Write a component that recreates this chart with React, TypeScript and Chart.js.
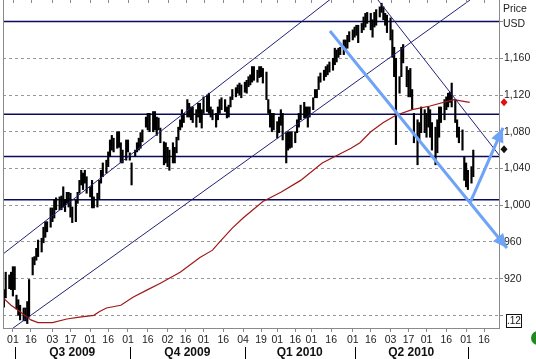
import React, { useEffect, useRef } from 'react';
import { Chart, registerables } from 'chart.js';
Chart.register(...registerables);

// ---------- DATA ----------
// x values are trading-day indices counted from 1 Jul 2009 (= 0)
const barDays = [-5,-4,-2,-1,0,1,2,3,4,6,7,8,9,11,12,13,14,16,17,18,19,21,22,23,24,26,27,28,29,30,31,32,33,35,36,37,38,39,40,41,43,44,45,47,48,49,50,52,53,54,55,56,58,59,60,61,63,64,65,66,68,69,70,71,72,74,75,76,78,79,80,81,82,84,85,86,87,89,90,91,92,93,94,95,97,98,99,100,102,103,104,105,106,108,109,110,111,113,114,115,116,118,119,120,121,122,124,125,126,127,129,130,131,132,133,134,136,137,138,139,141,142,143,144,145,147,148,149,150,152,153,154,155,157,158,159,160,162,163,164,165,167,168,169,170,171,173,174,175,176,178,179,180,181,182,184,185,186,187,189,190,191,192,194,195,196,197,199,200,201,202,204,205,206,207,208,210,211,212,213,215,216,217,219,220,221,222,223,225,226,227,229,230,231,232,233,235,236,237,238,240,241,242,243,244,246,247,248,250,251,252,253,255,256];
const barHighs = [908,927,924,927,933,933,902,897,891,888,888,895,919,943,944,953,962,964,976,982,982,997,997,1006,1008,1009,1010,1020,1006,1014,1014,1013,998,1006,1014,1027,1038,1035,1038,1031,1020,1027,1009,1013,1027,1038,1046,1049,1058,1071,1076,1073,1080,1080,1068,1060,1071,1071,1057,1046,1060,1068,1073,1079,1082,1096,1100,1100,1102,1102,1096,1095,1084,1069,1068,1063,1060,1068,1063,1074,1085,1093,1104,1100,1115,1111,1107,1107,1104,1111,1111,1104,1118,1120,1122,1107,1104,1100,1107,1115,1117,1115,1107,1109,1118,1126,1128,1131,1133,1131,1134,1136,1140,1142,1151,1151,1147,1151,1151,1149,1145,1115,1104,1100,1100,1091,1096,1104,1100,1079,1080,1080,1080,1080,1093,1100,1109,1112,1107,1107,1107,1117,1126,1126,1140,1144,1147,1151,1153,1156,1160,1171,1169,1171,1172,1180,1180,1185,1189,1191,1194,1196,1196,1198,1205,1209,1210,1209,1202,1210,1213,1216,1220,1216,1209,1207,1204,1191,1172,1160,1140,1172,1175,1151,1147,1149,1126,1100,1093,1090,1107,1104,1100,1107,1104,1090,1085,1093,1107,1107,1115,1118,1122,1123,1133,1115,1093,1085,1082,1053,1046,1038,1042,1060];
const barLows = [889,899,909,908,901,908,887,880,875,874,874,871,878,924,935,940,944,949,959,965,971,976,982,986,995,995,995,998,993,1002,998,987,981,982,1002,1013,1022,1017,1024,1013,1009,997,997,998,1006,1024,1031,1035,1042,1053,1060,1058,1062,1063,1046,1046,1049,1058,1049,1022,1053,1058,1060,1062,1069,1085,1082,1080,1080,1082,1076,1082,1068,1044,1046,1042,1038,1046,1046,1057,1071,1082,1085,1090,1096,1096,1093,1090,1085,1096,1090,1084,1100,1102,1100,1096,1093,1085,1093,1100,1104,1102,1095,1096,1107,1115,1118,1122,1120,1117,1123,1122,1129,1131,1134,1136,1134,1139,1140,1133,1115,1100,1085,1080,1082,1073,1079,1087,1071,1046,1060,1062,1063,1068,1079,1085,1093,1095,1095,1085,1096,1104,1117,1117,1126,1134,1136,1140,1142,1145,1147,1153,1156,1161,1164,1164,1169,1171,1178,1180,1183,1185,1177,1188,1191,1194,1198,1191,1183,1194,1196,1205,1210,1202,1196,1188,1180,1161,1140,1066,1122,1140,1155,1129,1118,1118,1104,1068,1044,1071,1079,1079,1074,1085,1074,1060,1044,1057,1074,1090,1093,1104,1107,1112,1107,1090,1074,1068,1060,1027,1020,1017,1024,1031];

const maDays = [-6,-1,4,10,14,22,30,37,45,48,52,60,67,75,82,93,104,111,115,122,128,139,149,160,172,188,193,199,206,213,222,232,245,254];
const maValues = [900,891,884,875,872,872,876,878,880,884,888,891,900,908,915,927,943,951,960,975,986,1004,1014,1027,1046,1062,1068,1080,1090,1098,1104,1108,1115,1112];

const levelPrices = [1200, 1099, 1053, 1006];

const channelUpperDays = [-6, 177];
const channelUpperPrices = [946, 1225];
const channelLowerDays = [0, 254.2];
const channelLowerPrices = [866, 1223.5];
const declineDays = [203, 270.3];
const declinePrices = [1223.5, 1054.7];

const arrowDownDays = [176.3, 274.7];
const arrowDownPrices = [1189.7, 953.4];
const arrowUpDays = [254.2, 272.5];
const arrowUpPrices = [1002.4, 1084.1];

const lastClose = 1061;

const xTickDays = [0,10,22,32,43,53,64,75,86,96,106,117,128,138,147,157,166,177,189,199,210,220,230,241,252,262];
const xTickLabels = ['01','16','03','17','01','16','01','16','02','16','01','16','04','19','01','16','01','16','01','16','03','17','01','16','01','16'];
const quarterStarts = [1, 65, 129, 190, 253];
const quarterLabels = ['Q3 2009', 'Q4 2009', 'Q1 2010', 'Q2 2010'];
const yTicks = [880, 920, 960, 1000, 1040, 1080, 1120, 1160, 1200];
const yHiddenLabels = [880, 1200];

const X_MIN = -5.5;
const X_MAX = 270.3;
const Y_MIN = 866.2;
const Y_MAX = 1223.5;

// ---------- helpers ----------
const pts = (xs: number[], ys: number[]) => xs.map((x, i) => ({ x, y: ys[i] }));
const FONT = '"Liberation Sans", Arial, sans-serif';
const BLUE = '#6ea3f5';

const overlay = {
  id: 'overlay',
  afterDraw(chart: any) {
    const { ctx, chartArea, scales } = chart;
    const xs = scales.x;
    const ys = scales.y;
    ctx.save();
    // left border
    ctx.strokeStyle = '#8a8a8a';
    ctx.lineWidth = 1;
    ctx.beginPath();
    ctx.moveTo(chartArea.left + 0.5, chartArea.top);
    ctx.lineTo(chartArea.left + 0.5, chartArea.bottom);
    ctx.stroke();
    // top tick marks
    xTickDays.forEach((d) => {
      const px = Math.round(xs.getPixelForValue(d)) + 0.5;
      ctx.beginPath();
      ctx.moveTo(px, chartArea.top);
      ctx.lineTo(px, chartArea.top + 3);
      ctx.stroke();
    });
    // quarter separators & labels
    ctx.strokeStyle = '#000';
    quarterStarts.forEach((d) => {
      const px = Math.round(xs.getPixelForValue(d)) + 0.5;
      ctx.beginPath();
      ctx.moveTo(px, chartArea.bottom + 19);
      ctx.lineTo(px, chartArea.bottom + 31);
      ctx.stroke();
    });
    ctx.fillStyle = '#111';
    ctx.font = 'bold 12px ' + FONT;
    ctx.textAlign = 'center';
    ctx.textBaseline = 'middle';
    quarterLabels.forEach((lab, i) => {
      const cx = (xs.getPixelForValue(quarterStarts[i]) + xs.getPixelForValue(quarterStarts[i + 1])) / 2;
      ctx.fillText(lab, cx, chartArea.bottom + 25);
    });
    // Price / USD
    ctx.font = '10.5px ' + FONT;
    ctx.textAlign = 'left';
    ctx.fillStyle = '#222';
    ctx.fillText('Price', chartArea.right + 4, 9);
    ctx.fillText('USD', chartArea.right + 4, 24);
    // diamonds
    const diamond = (cy: number, color: string) => {
      const cx = chartArea.right + 5;
      ctx.fillStyle = color;
      ctx.beginPath();
      ctx.moveTo(cx, cy - 4);
      ctx.lineTo(cx + 3.5, cy);
      ctx.lineTo(cx, cy + 4);
      ctx.lineTo(cx - 3.5, cy);
      ctx.closePath();
      ctx.fill();
    };
    diamond(ys.getPixelForValue(maValues[maValues.length - 1]), '#e01010');
    diamond(ys.getPixelForValue(lastClose), '#111');
    // small box
    const by = chartArea.bottom - 14;
    ctx.fillStyle = '#fff';
    ctx.fillRect(chartArea.right + 7, by, 15, 13);
    ctx.strokeStyle = '#111';
    ctx.strokeRect(chartArea.right + 7.5, by + 0.5, 15, 13);
    ctx.fillStyle = '#111';
    ctx.font = '10px ' + FONT;
    ctx.fillText('.12', chartArea.right + 8, by + 7);
    // green circle
    ctx.fillStyle = '#1f8a1f';
    ctx.beginPath();
    ctx.arc(chartArea.right + 39, chartArea.bottom + 10, 7, 0, Math.PI * 2);
    ctx.fill();
    // arrowheads
    [0, 1].forEach((di) => {
      const meta = chart.getDatasetMeta(di);
      const p = meta.data;
      if (p.length < 2) return;
      const a = p[p.length - 2];
      const b = p[p.length - 1];
      const ang = Math.atan2(b.y - a.y, b.x - a.x);
      const L = 14;
      const W = 6.5;
      ctx.fillStyle = BLUE;
      ctx.beginPath();
      ctx.moveTo(b.x, b.y);
      ctx.lineTo(b.x - L * Math.cos(ang) + W * Math.sin(ang), b.y - L * Math.sin(ang) - W * Math.cos(ang));
      ctx.lineTo(b.x - L * Math.cos(ang) - W * Math.sin(ang), b.y - L * Math.sin(ang) + W * Math.cos(ang));
      ctx.closePath();
      ctx.fill();
    });
    ctx.restore();
  },
};

const lineDs = (data: any[], color: string, width: number, order: number, extra: any = {}) => ({
  type: 'line' as const,
  data,
  borderColor: color,
  borderWidth: width,
  pointRadius: 0,
  tension: 0,
  fill: false,
  order,
  ...extra,
});

export default function App() {
  const ref = useRef<HTMLCanvasElement>(null);
  useEffect(() => {
    document.body.style.margin = '0';
    const canvas = ref.current;
    if (!canvas) return;
    const bars = barDays.map((d, i) => ({ x: d, y: [barLows[i], barHighs[i]] }));
    const datasets: any[] = [
      lineDs(pts(arrowDownDays, arrowDownPrices), BLUE, 3, 0, { clip: false }),
      lineDs(pts(arrowUpDays, arrowUpPrices), BLUE, 3, 0, { clip: false }),
      lineDs(pts(channelUpperDays, channelUpperPrices), '#22227a', 1, 1),
      lineDs(pts(channelLowerDays, channelLowerPrices), '#22227a', 1, 1),
      lineDs(pts(declineDays, declinePrices), '#22227a', 1, 1),
      lineDs(pts(maDays, maValues), '#a01818', 1.2, 2),
      {
        type: 'bar' as const,
        data: bars,
        backgroundColor: '#000',
        borderWidth: 0,
        barThickness: 1.5,
        order: 3,
      },
      ...levelPrices.map((p) => lineDs([{ x: X_MIN, y: p }, { x: X_MAX, y: p }], '#0b0b5c', 1.5, 4)),
    ];
    const chart = new Chart(canvas, {
      type: 'line',
      data: { datasets },
      options: {
        responsive: false,
        animation: false,
        events: [],
        layout: { padding: { left: 3, right: 0, top: 0, bottom: 0 } },
        plugins: { legend: { display: false }, tooltip: { enabled: false } },
        scales: {
          x: {
            type: 'linear',
            min: X_MIN,
            max: X_MAX,
            offset: false,
            bounds: 'data',
            afterBuildTicks: (s: any) => {
              s.ticks = xTickDays.map((v) => ({ value: v }));
            },
            afterFit: (s: any) => {
              s.height = 31;
              s.paddingLeft = 0;
              s.paddingRight = 0;
            },
            ticks: {
              autoSkip: false,
              maxRotation: 0,
              padding: 2,
              color: '#222',
              font: { family: FONT, size: 10.5 },
              callback: (_v: any, i: number) => xTickLabels[i] ?? '',
            },
            grid: { drawOnChartArea: false, offset: false, tickLength: 4, color: '#8a8a8a' },
            border: { color: '#8a8a8a' },
          },
          y: {
            type: 'linear',
            position: 'right',
            min: Y_MIN,
            max: Y_MAX,
            bounds: 'data',
            afterBuildTicks: (s: any) => {
              s.ticks = yTicks.map((v) => ({ value: v }));
            },
            afterFit: (s: any) => {
              s.width = 37;
              s.paddingTop = 0;
              s.paddingBottom = 0;
            },
            ticks: {
              padding: 1,
              color: '#222',
              font: { family: FONT, size: 10.5 },
              callback: (v: any) => (yHiddenLabels.includes(Number(v)) ? '' : Number(v).toLocaleString('en-US')),
            },
            grid: { color: '#999', tickLength: 4, tickColor: '#8a8a8a', lineWidth: 1 },
            border: { color: '#8a8a8a', dash: [3, 3] },
          },
        },
      },
      plugins: [overlay],
    } as any);
    return () => chart.destroy();
  }, []);
  return (
    <div style={{ width: 536, height: 359 }}>
      <canvas ref={ref} width={536} height={359} style={{ display: 'block' }} />
    </div>
  );
}
